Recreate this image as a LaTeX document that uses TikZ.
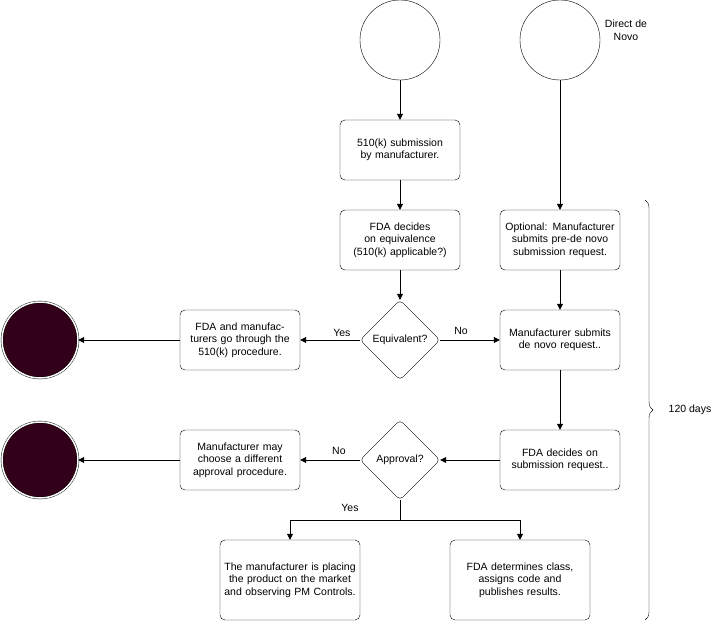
\documentclass[tikz,border=0pt]{standalone}
\usepackage{fontspec}
\setmainfont{Liberation Sans}
\usetikzlibrary{shapes.geometric,decorations.pathreplacing,arrows.meta}
\definecolor{endc}{HTML}{33001A}
\begin{document}
\begin{tikzpicture}[x=1pt,y=-1pt,font=\fontsize{10.5}{12.5}\selectfont,
 box/.style={draw,rounded corners=5pt,minimum width=120pt,minimum height=60pt,align=center,text width=116pt,inner sep=1pt},
 dia/.style={draw,diamond,rounded corners=4pt,minimum width=80pt,minimum height=80pt,inner sep=0pt,align=center},
 circ/.style={draw,circle,minimum size=80pt,inner sep=0pt},
 endn/.style={draw,circle,fill=endc,minimum size=76pt,inner sep=0pt,double=white,double distance=1.5pt},
 arr/.style={-{Triangle[length=6pt,width=6pt]},line width=0.8pt},
 lab/.style={fill=white,inner sep=1pt}]
\useasboundingbox (0,0) rectangle (721,621);
\node[circ] (c1) at (400,40) {};
\node[circ] (c2) at (560,40) {};
\node[align=center] (dn) at (626,30) {Direct de\\Novo};
\node[box] (b1) at (400,150) {510(k) submission by manufacturer.};
\node[box] (b2) at (400,240) {FDA decides on equivalence (510(k) applicable?)};
\node[box] (b3) at (560,240) {Optional: Manufacturer submits pre-de novo submission request.};
\node[dia] (d1) at (400,340) {Equivalent?};
\node[box] (b4) at (560,340) {Manufacturer submits de novo request..};
\node[box] (b5) at (240,340) {FDA and manufacturers go through the 510(k) procedure.};
\node[endn] (e1) at (40,340) {};
\node[box] (b6) at (560,460) {FDA decides on submission request..};
\node[dia] (d2) at (400,460) {Approval?};
\node[box] (b7) at (240,460) {Manufacturer may choose a different approval procedure.};
\node[endn] (e2) at (40,460) {};
\node[box,minimum width=140pt,text width=136pt,minimum height=80pt] (b8) at (290,580) {The manufacturer is placing the product on the market and observing PM Controls.};
\node[box,minimum width=140pt,text width=136pt,minimum height=80pt] (b9) at (520,580) {FDA determines class, assigns code and publishes results.};
\coordinate (s) at (400,520);
\draw[arr] (c1) -- (b1);
\draw[arr] (b1) -- (b2);
\draw[arr] (b2) -- (d1);
\draw[arr] (c2) -- (b3);
\draw[arr] (b3) -- (b4);
\draw[arr] (d1) -- node[lab,pos=0.3,above=2pt,fill=none]{Yes} (b5);
\draw[arr] (d1) -- node[pos=0.35,above=2pt]{No} (b4);
\draw[arr] (b5) -- (e1);
\draw[arr] (b4) -- (b6);
\draw[arr] (b6) -- (d2);
\draw[arr] (d2) -- node[pos=0.35,above=2pt]{No} (b7);
\draw[arr] (b7) -- (e2);
\draw[line width=0.8pt] (d2) -- (s);
\draw[arr] (s) -| (b8);
\draw[arr] (s) -| (b9);
\node at (350,508) {Yes};
\coordinate (bt) at (645,200);
\coordinate (bb) at (645,620);
\draw[decorate,decoration={brace,amplitude=8pt}] (bt) -- (bb);
\node (lbl) at (690,410) {120 days};
\end{tikzpicture}
\end{document}
